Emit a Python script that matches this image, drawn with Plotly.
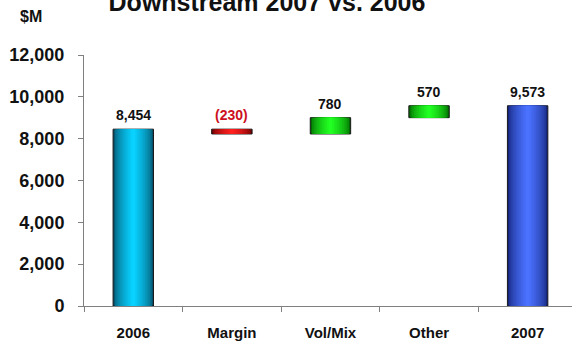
import plotly.graph_objects as go

# Downstream earnings bridge, $M
categories = ["2006", "Margin", "Vol/Mix", "Other", "2007"]
start_value = 8454
changes = [-230, 780, 570]
end_value = 9573
y_ticks = [0, 2000, 4000, 6000, 8000, 10000, 12000]

# bar colours: (edge shade, highlight)
bar_shades = [
    ("#05506a", "#08d2ff"),
    ("#6e0000", "#ff2020"),
    ("#006a00", "#22ff22"),
    ("#006a00", "#22ff22"),
    ("#14247a", "#4a72ff"),
]
label_colors = ["#111111", "#cc1122", "#111111", "#111111", "#111111"]

# waterfall geometry from the data
heights = [start_value]
bases = [0]
running = start_value
for c in changes:
    bases.append(running)
    heights.append(c)
    running += c
heights.append(end_value)
bases.append(0)
tops = [max(b, b + h) for b, h in zip(bases, heights)]


def fmt(v, signed):
    if signed and v < 0:
        return f"({abs(v):,})"
    return f"{abs(v):,}"


labels = [fmt(start_value, False)] + [fmt(c, True) for c in changes] + [fmt(end_value, False)]


def mix(a, b, t):
    a = [int(a[i:i + 2], 16) for i in (1, 3, 5)]
    b = [int(b[i:i + 2], 16) for i in (1, 3, 5)]
    return "#" + "".join(f"{round(x + (y - x) * t):02x}" for x, y in zip(a, b))


positions = list(range(len(categories)))

fig = go.Figure()
BAR_W = 0.41
N_LAYERS = 12
for k in range(N_LAYERS):
    frac = k / (N_LAYERS - 1)
    w = BAR_W * (1 - k / N_LAYERS)
    cols = [mix(d, l, frac ** 0.6) for d, l in bar_shades]
    fig.add_trace(go.Bar(
        x=positions, y=heights, base=bases,
        width=[w] * len(categories),
        marker=dict(color=cols,
                    line=dict(color="#1a1a1a", width=1 if k == 0 else 0)),
        hoverinfo="skip", showlegend=False,
    ))

for pos, top, txt, col in zip(positions, tops, labels, label_colors):
    fig.add_annotation(
        x=pos, y=top, text=f"<b>{txt}</b>", showarrow=False,
        yanchor="bottom", yshift=4,
        font=dict(family="Liberation Sans Narrow, Liberation Sans, Arial", size=14, color=col),
    )

fig.add_annotation(
    xref="paper", yref="paper", x=(31 - 84) / 488, y=1 + (55 - 17) / 251,
    text="<b>$M</b>", showarrow=False, xanchor="center", yanchor="middle",
    font=dict(family="Liberation Sans, Arial", size=16, color="#111111"),
)

fig.update_layout(
    width=572, height=347,
    margin=dict(l=84, r=0, t=55, b=41),
    paper_bgcolor="white", plot_bgcolor="white",
    barmode="overlay",
    title=dict(text="<b>Downstream 2007 vs. 2006</b>", x=267 / 572, xanchor="center",
               y=0.994, yanchor="middle",
               font=dict(family="Liberation Sans, Arial", size=25, color="#111111")),
    xaxis=dict(
        range=[-0.5, 4.45],
        tickvals=positions, ticktext=[f"<b>{c}</b>" for c in categories],
        showline=True, linecolor="#808080", linewidth=1,
        ticks="", showgrid=False, zeroline=False,
        ticklabelstandoff=13,
        tickfont=dict(family="Liberation Sans, Arial", size=15, color="#111111"),
        minor=dict(tickvals=[p + 0.5 for p in positions[:-1]] + [-0.5],
                   ticks="outside", ticklen=5, tickcolor="#808080", showgrid=False),
    ),
    yaxis=dict(
        range=[0, 12000], tickvals=y_ticks,
        ticktext=[f"<b>{v:,}</b>" for v in y_ticks],
        showline=True, linecolor="#808080", linewidth=1,
        ticks="outside", ticklen=5, tickcolor="#808080",
        ticklabelstandoff=10,
        tickfont=dict(family="Liberation Sans, Arial", size=18, color="#111111"),
        showgrid=False, zeroline=False,
    ),
)

fig.write_html("out.html")
